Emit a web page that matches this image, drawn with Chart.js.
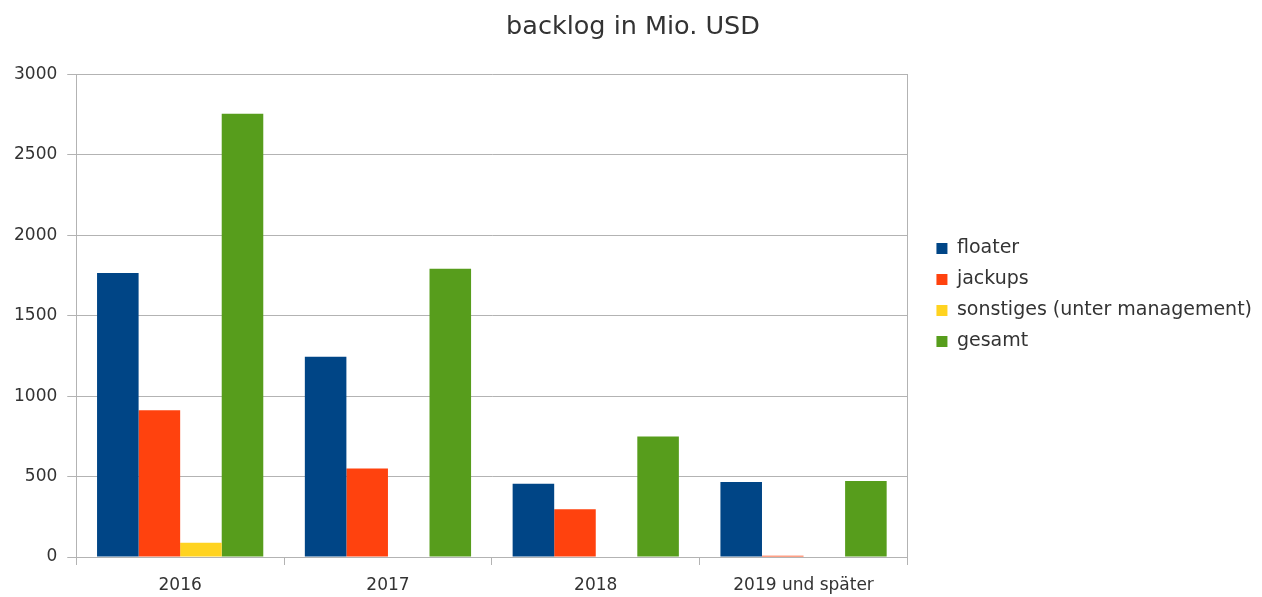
<!DOCTYPE html>
<html>
<head>
<meta charset="utf-8">
<script src="https://cdn.jsdelivr.net/npm/chart.js@4"></script>
<style>
  html, body { margin: 0; padding: 0; background: #fff; }
  #wrap { width: 1262px; height: 597px; }
</style>
</head>
<body>
<div id="wrap"><canvas id="backlogChart"></canvas></div>
<script>
const years = ["2016", "2017", "2018", "2019 und später"];
const floater = [1766, 1245, 456, 467];
const jackups = [913, 550, 297, 8];
const sonstiges = [89, 0, 0, 0];
const gesamt = [2756, 1793, 749, 473];
const yTicks = [0, 500, 1000, 1500, 2000, 2500, 3000];

const gridColor = "#b3b3b3";
const textColor = "#333";
Chart.defaults.font.family = "'DejaVu Sans', sans-serif";
Chart.defaults.color = textColor;

new Chart(document.getElementById("backlogChart"), {
  type: "bar",
  data: {
    labels: years,
    datasets: [
      { label: "floater", data: floater, backgroundColor: "#004586" },
      { label: "jackups", data: jackups, backgroundColor: "#ff420e" },
      { label: "sonstiges (unter management)", data: sonstiges, backgroundColor: "#ffd320" },
      { label: "gesamt", data: gesamt, backgroundColor: "#579d1c" }
    ]
  },
  options: {
    responsive: true,
    maintainAspectRatio: false,
    animation: false,
    // negative top pads lift the legend a little; the title padding puts the text back
    layout: { padding: { left: 4, right: 0, top: -7, bottom: 0 } },
    datasets: {
      bar: { categoryPercentage: 0.8, barPercentage: 1.0, borderWidth: 0 }
    },
    plugins: {
      tooltip: { enabled: false },
      title: {
        display: true,
        text: "backlog in Mio. USD",
        color: textColor,
        font: { size: 25.5, weight: "normal" },
        padding: { top: 19, bottom: 32 }
      },
      legend: {
        position: "right",
        align: "center",
        maxWidth: 400,
        labels: {
          boxWidth: 11,
          boxHeight: 11,
          padding: 12,
          color: textColor,
          font: { size: 19 }
        }
      }
    },
    scales: {
      x: {
        offset: true,
        grid: { display: true, drawOnChartArea: false, offset: true, color: gridColor, tickLength: 8 },
        border: { color: gridColor },
        ticks: { padding: 10, font: { size: 17 }, color: textColor },
        afterFit: s => { s.height = 40; }
      },
      y: {
        min: 0,
        max: 3000,
        afterBuildTicks: s => { s.ticks = yTicks.map(v => ({ value: v })); },
        grid: { color: gridColor, tickLength: 9 },
        border: { color: gridColor },
        ticks: { padding: 10, font: { size: 17 }, color: textColor, callback: v => String(v) }
      },
      // right frame of the plot, also keeps a gap before the legend
      frame: {
        type: "linear",
        position: "right",
        display: true,
        grid: { display: true, drawOnChartArea: false, drawTicks: false },
        border: { display: true, color: gridColor },
        ticks: { display: false },
        afterFit: s => { s.width = 17; }
      }
    }
  }
});
</script>
</body>
</html>
